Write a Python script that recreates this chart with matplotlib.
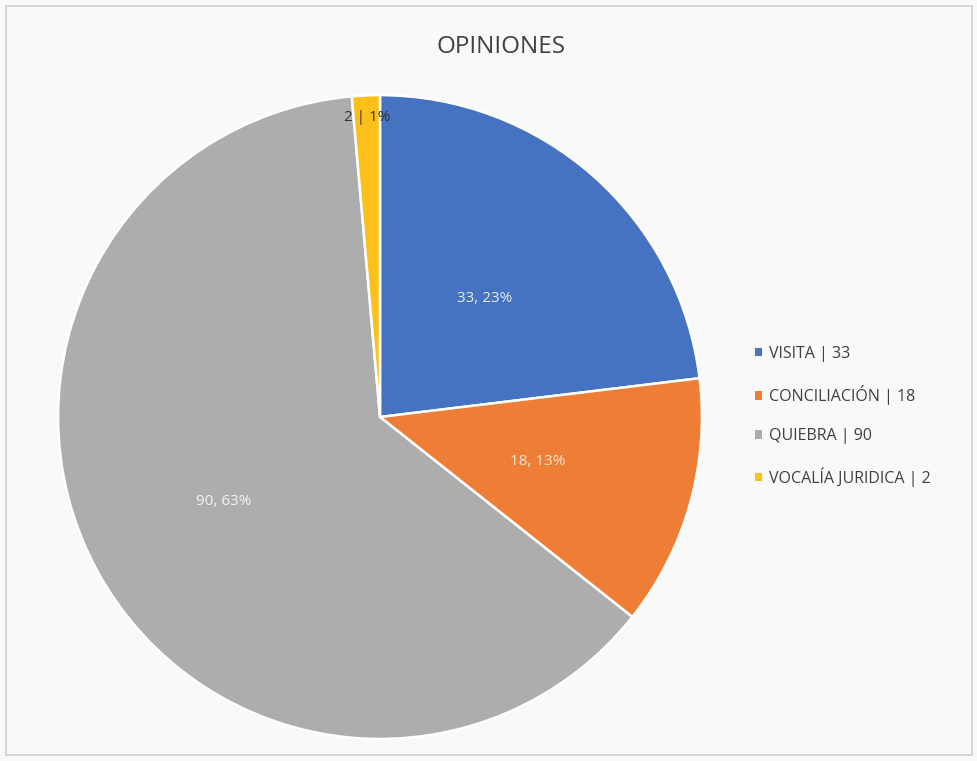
import matplotlib
matplotlib.use("Agg")
import matplotlib.pyplot as plt
import numpy as np
from matplotlib.patches import Rectangle, Patch

categories = ["VISITA", "CONCILIACIÓN", "QUIEBRA", "VOCALÍA JURIDICA"]
values = [33, 18, 90, 2]
pct_labels = ["23%", "13%", "63%", "1%"]
colors = ["#4672c2", "#ee7e35", "#adadad", "#fdbf1a"]
title = "OPINIONES"

plt.rcParams['font.family'] = ['Open Sans', 'DejaVu Sans']

fig = plt.figure(figsize=(9.78, 7.61), dpi=100, facecolor="#f9f9f9")
fig.patches.append(Rectangle((0.006, 0.008), 0.988, 0.984, transform=fig.transFigure,
                             fill=False, edgecolor="#cfcfcf", lw=1.2))

ax = fig.add_axes([0.0593, 0.029, 0.6585, 0.846])
wedges, _ = ax.pie(values, colors=colors, startangle=90, counterclock=False,
                   wedgeprops=dict(edgecolor="white", linewidth=1.8))
ax.set_aspect("equal")
ax.set_xlim(-1, 1)
ax.set_ylim(-1, 1)

dists = [0.49, 0.51, 0.55, 0.93]
seps = [", ", ", ", ", ", " | "]
txtcol = ["#e8ecf6", "#fbe7d6", "#f4f4f4", "#333333"]
for w, v, p, d, s, c in zip(wedges, values, pct_labels, dists, seps, txtcol):
    th = np.deg2rad((w.theta1 + w.theta2) / 2)
    ax.text(d * np.cos(th), d * np.sin(th), f"{v}{s}{p}", ha="center", va="center",
            fontsize=11, color=c)

fig.text(0.512, 0.938, title, ha="center", va="center", fontsize=17.5, color="#404040")

handles = [Patch(facecolor=col, edgecolor="none") for col in colors]
labels = [f"{c} | {v}" for c, v in zip(categories, values)]
fig.legend(handles, labels, loc="center left", bbox_to_anchor=(0.757, 0.453),
           frameon=False, fontsize=11.5, handlelength=0.45, handleheight=0.45,
           handletextpad=0.45, labelspacing=1.45, labelcolor="#404040")

fig.savefig("out.png", dpi=100, facecolor=fig.get_facecolor())
